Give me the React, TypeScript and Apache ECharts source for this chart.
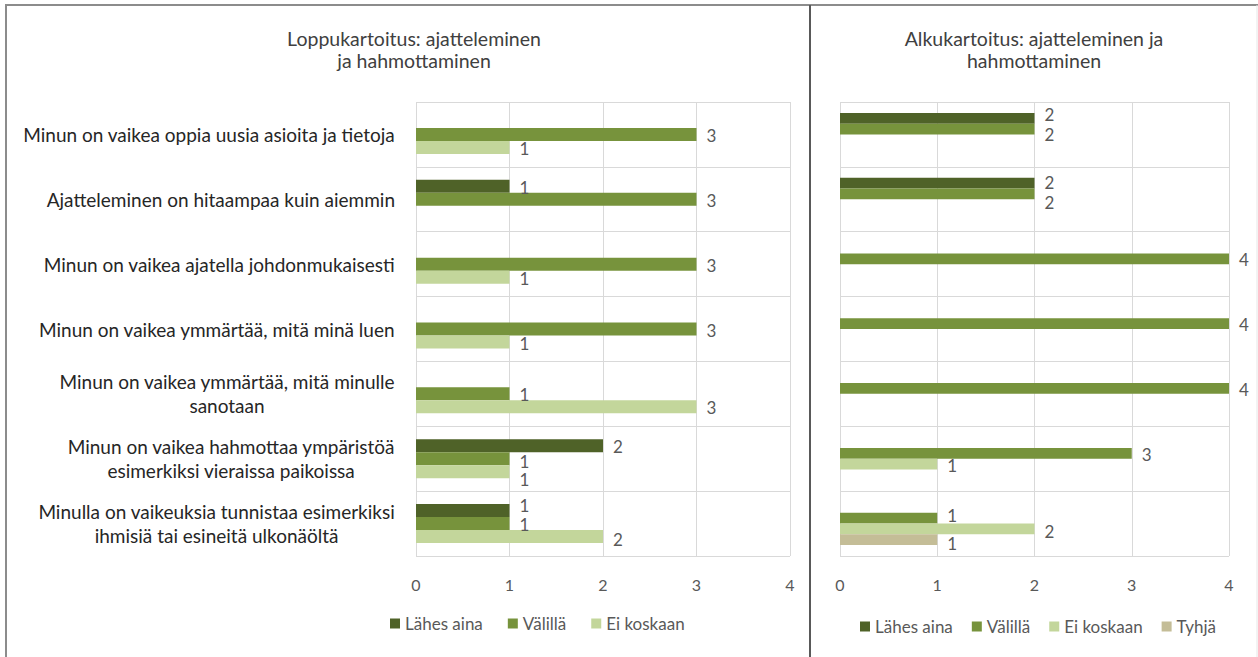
import React, { useEffect, useRef } from "react";
import * as echarts from "echarts";

// Statements (top to bottom)
const categories = [
  "Minun on vaikea oppia uusia asioita ja tietoja",
  "Ajatteleminen on hitaampaa kuin aiemmin",
  "Minun on vaikea ajatella johdonmukaisesti",
  "Minun on vaikea ymmärtää, mitä minä luen",
  "Minun on vaikea ymmärtää, mitä minulle\nsanotaan",
  "Minun on vaikea hahmottaa ympäristöä\nesimerkiksi vieraissa paikoissa",
  "Minulla on vaikeuksia tunnistaa esimerkiksi\nihmisiä tai esineitä ulkonäöltä",
];

const seriesNames = ["Lähes aina", "Välillä", "Ei koskaan", "Tyhjä"];
const xTicks = [0, 1, 2, 3, 4];

// Loppukartoitus (final survey)
const loppuLahesAina = [null, 1, null, null, null, 2, 1];
const loppuValilla = [3, 3, 3, 3, 1, 1, 1];
const loppuEiKoskaan = [1, null, 1, 1, 3, 1, 2];

// Alkukartoitus (initial survey)
const alkuLahesAina = [2, 2, null, null, null, null, null];
const alkuValilla = [2, 2, 4, 4, 4, 3, 1];
const alkuEiKoskaan = [null, null, null, null, null, 1, 2];
const alkuTyhja = [null, null, null, null, null, null, 1];

const colors = ["#4f6228", "#77933c", "#c3d69b", "#c4bd97"];

const FONT = "Lato, 'Open Sans', sans-serif";

// Vertical nudges (px) that keep stacked value labels from colliding,
// keyed by "panel:series:category".
const labelNudge: Record<string, number> = {
  "0:1:5": 1.5,
  "0:2:5": 7,
  "0:0:6": -6.5,
  "0:2:6": 2,
  "1:0:0": -5,
  "1:1:0": 4.5,
  "1:0:1": -2,
  "1:1:1": 7.5,
  "1:1:6": -4,
  "1:2:6": 2,
  "1:3:6": 2.5,
};

export default function App() {
  const ref = useRef<HTMLDivElement>(null);

  useEffect(() => {
    if (!ref.current) return;
    const chart = echarts.init(ref.current, null, { renderer: "svg" });

    const barLabel = {
      show: true,
      position: "right",
      distance: 10,
      color: "#595959",
      fontSize: 17,
      lineHeight: 16,
      fontFamily: FONT,
    };

    const makeSeries = (
      seriesIndex: number,
      data: (number | null)[],
      panel: number,
      width: number
    ) => ({
      name: seriesNames[seriesIndex],
      type: "bar",
      xAxisIndex: panel,
      yAxisIndex: panel,
      data: data.map((v, i) => {
        if (v == null) return null;
        const dy = (labelNudge[`${panel}:${seriesIndex}:${i}`] ?? 0) + 1;
        return { value: v, label: { offset: [0, dy] } };
      }),
      barWidth: width,
      barGap: "0%",
      itemStyle: { color: colors[seriesIndex] },
      label: barLabel,
    });

    const valueAxis = (gridIndex: number) => ({
      type: "value",
      gridIndex,
      min: xTicks[0],
      max: xTicks[xTicks.length - 1],
      interval: 1,
      axisLine: { show: false },
      axisTick: { show: false },
      axisLabel: {
        color: "#595959",
        fontSize: 16,
        fontFamily: FONT,
        margin: 20,
      },
      splitLine: { show: true, lineStyle: { color: "#d9d9d9", width: 1 } },
    });

    const catAxis = (gridIndex: number, showLabels: boolean) => ({
      type: "category",
      gridIndex,
      data: categories,
      inverse: true,
      axisLine: { show: false },
      axisTick: { show: false },
      axisLabel: {
        show: showLabels,
        interval: 0,
        margin: 21,
        align: "right",
        formatter: (v: string) =>
          v
            .split("\n")
            .map((line) => `{c|${line}}`)
            .join("\n"),
        rich: {
          c: {
            align: "center",
            color: "#262626",
            fontSize: 19,
            fontFamily: FONT,
            lineHeight: 24,
          },
        },
      },
      splitLine: {
        show: true,
        interval: 0,
        lineStyle: { color: "#d9d9d9", width: 1 },
      },
    });

    const titleStyle = {
      color: "#404040",
      fontSize: 19.5,
      fontWeight: "normal",
      fontFamily: FONT,
      lineHeight: 22,
    };

    const legendText = { color: "#595959", fontSize: 17, fontFamily: FONT };

    chart.setOption({
      animation: false,
      backgroundColor: "#ffffff",
      textStyle: { fontFamily: FONT },
      title: [
        {
          text: "Loppukartoitus: ajatteleminen\nja hahmottaminen",
          left: 414,
          top: 27,
          padding: 0,
          textAlign: "center",
          textStyle: titleStyle,
        },
        {
          text: "Alkukartoitus: ajatteleminen ja\nhahmottaminen",
          left: 1034,
          top: 27,
          padding: 0,
          textAlign: "center",
          textStyle: titleStyle,
        },
      ],
      legend: [
        {
          data: seriesNames.slice(0, 3),
          left: 390,
          top: 615,
          padding: 0,
          icon: "rect",
          itemWidth: 10,
          itemHeight: 10,
          itemGap: 25,
          textStyle: legendText,
        },
        {
          data: seriesNames,
          left: 860,
          top: 618,
          padding: 0,
          icon: "rect",
          itemWidth: 10,
          itemHeight: 10,
          itemGap: 19,
          textStyle: legendText,
        },
      ],
      grid: [
        { left: 416, right: 468, top: 102, bottom: 101, containLabel: false },
        { left: 840, right: 29, top: 102, bottom: 101, containLabel: false },
      ],
      xAxis: [valueAxis(0), valueAxis(1)],
      yAxis: [catAxis(0, true), catAxis(1, false)],
      series: [
        makeSeries(0, loppuLahesAina, 0, 13),
        makeSeries(1, loppuValilla, 0, 13),
        makeSeries(2, loppuEiKoskaan, 0, 13),
        makeSeries(0, alkuLahesAina, 1, 10.75),
        makeSeries(1, alkuValilla, 1, 10.75),
        makeSeries(2, alkuEiKoskaan, 1, 10.75),
        makeSeries(3, alkuTyhja, 1, 10.75),
      ],
      graphic: [
        {
          type: "line",
          shape: { x1: 5, y1: 5, x2: 1258, y2: 5 },
          style: { stroke: "#8c8c8c", lineWidth: 2 },
        },
        {
          type: "line",
          shape: { x1: 6, y1: 5, x2: 6, y2: 657 },
          style: { stroke: "#8c8c8c", lineWidth: 2 },
        },
        {
          type: "line",
          shape: { x1: 810, y1: 5, x2: 810, y2: 657 },
          style: { stroke: "#595959", lineWidth: 2 },
        },
        {
          type: "line",
          shape: { x1: 1257, y1: 5, x2: 1257, y2: 657 },
          style: { stroke: "#e6e6e6", lineWidth: 1 },
        },
      ],
    });

    return () => chart.dispose();
  }, []);

  return (
    <div
      ref={ref}
      style={{ position: "fixed", left: 0, top: 0, width: 1258, height: 657 }}
    />
  );
}
